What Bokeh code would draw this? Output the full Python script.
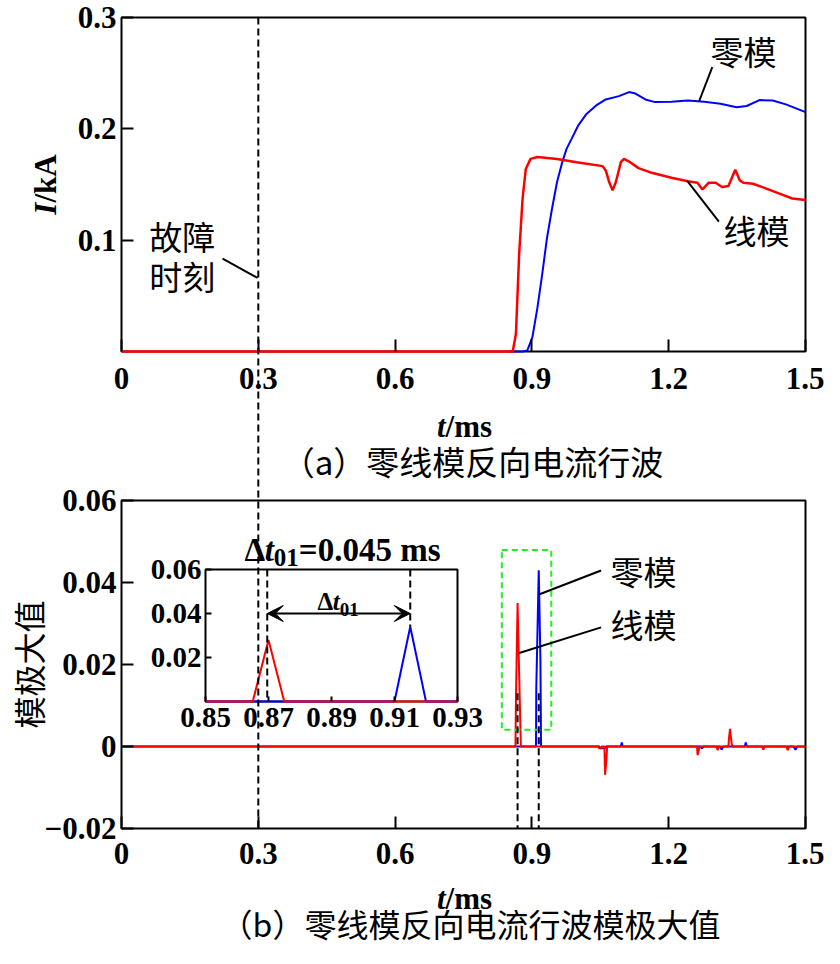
import math
from bokeh.plotting import figure
from bokeh.models import Range1d, LinearAxis, FixedTicker, Arrow, VeeHead
from bokeh.core.properties import value
from bokeh.embed import file_html
from bokeh.resources import INLINE

# ---------------- data ----------------
t_ticks = [0, 0.3, 0.6, 0.9, 1.2, 1.5]
t_tick_labels = ["0", "0.3", "0.6", "0.9", "1.2", "1.5"]
i_ticks = [0.1, 0.2, 0.3]
i_tick_labels = ["0.1", "0.2", "0.3"]
m_ticks = [-0.02, 0, 0.02, 0.04, 0.06]
m_tick_labels = ["\u22120.02", "0", "0.02", "0.04", "0.06"]
inset_t_ticks = [0.85, 0.87, 0.89, 0.91, 0.93]
inset_t_labels = ["0.85", "0.87", "0.89", "0.91", "0.93"]
inset_m_ticks = [0.02, 0.04, 0.06]
inset_m_labels = ["0.02", "0.04", "0.06"]

# (a) backward current travelling waves, kA
line_t = [0, 0.858, 0.865, 0.872, 0.8795, 0.8866, 0.897, 0.912, 0.955, 0.998, 1.055, 1.062,
          1.0696, 1.077, 1.084, 1.095, 1.102, 1.113, 1.134, 1.163, 1.206, 1.242, 1.263, 1.274,
          1.288, 1.303, 1.317, 1.331, 1.346, 1.356, 1.364, 1.385, 1.414, 1.443, 1.471, 1.5]
line_i = [0, 0, 0.016, 0.087, 0.137, 0.164, 0.173, 0.1747, 0.173, 0.170, 0.1665, 0.1626,
          0.152, 0.1448, 0.152, 0.170, 0.173, 0.1706, 0.1647, 0.1605, 0.156, 0.153, 0.1516, 0.1456,
          0.1516, 0.1516, 0.1478, 0.1487, 0.1632, 0.1537, 0.1516, 0.1507, 0.1463, 0.1418, 0.1374, 0.136]
zero_t = [0.85, 0.880, 0.890, 0.901, 0.912, 0.9225, 0.933, 0.944, 0.955, 0.9655, 0.976, 0.987,
          1.001, 1.019, 1.041, 1.062, 1.091, 1.113, 1.127, 1.149, 1.170, 1.206, 1.242, 1.278,
          1.3135, 1.349, 1.371, 1.399, 1.428, 1.457, 1.5]
zero_i = [0, 0, 0.001, 0.0127, 0.039, 0.069, 0.1017, 0.128, 0.152, 0.1685, 0.182, 0.191,
          0.2026, 0.213, 0.221, 0.2264, 0.2294, 0.233, 0.2317, 0.2264, 0.224, 0.2243, 0.2255, 0.2243,
          0.2226, 0.2193, 0.2205, 0.2258, 0.2255, 0.222, 0.215]

# (b) modulus maxima
mod_line_t = [0, 0.864, 0.865, 0.8686, 0.8722, 0.8758, 1.046, 1.047, 1.052, 1.053, 1.059, 1.0605,
              1.0635, 1.065, 1.262, 1.2635, 1.2665, 1.268, 1.305, 1.3075, 1.31, 1.331, 1.332, 1.3345,
              1.3375, 1.339, 1.405, 1.4075, 1.41, 1.458, 1.461, 1.464, 1.5]
mod_line_v = [0, 0, 0.0114, 0.035, 0.017, 0, 0, -0.0004, -0.0004, 0, 0, -0.0069,
              -0.0030, 0, 0, -0.0021, -0.0006, 0, 0, -0.0009, 0, 0, 0.0018, 0.0043,
              0.0012, 0, 0, -0.0008, 0, 0, -0.0009, 0, 0]
mod_zero_t = [0, 0.909, 0.9096, 0.915, 0.9187, 0.920, 1.048, 1.05, 1.06, 1.062, 1.095, 1.097,
              1.099, 1.27, 1.273, 1.276, 1.312, 1.316, 1.32, 1.367, 1.369, 1.371, 1.474, 1.478,
              1.482, 1.5]
mod_zero_v = [0, 0, 0.014, 0.043, 0.0211, 0, 0, -0.0004, -0.0004, 0, 0, 0.001,
              0, 0, -0.0005, 0, 0, -0.0007, 0, 0, 0.001, 0, 0, -0.0008,
              0, 0]

# inset (zoomed wavefront maxima)
inset_line_t = [0.85, 0.865, 0.87, 0.875, 0.93]
inset_line_v = [0, 0, 0.028, 0, 0]
inset_zero_t = [0.85, 0.91, 0.915, 0.92, 0.93]
inset_zero_v = [0, 0, 0.034, 0, 0]

fault_t = 0.3
arrival_line_t = 0.8686
arrival_zero_t = 0.915
inset_arrival_line_t = 0.8696
inset_arrival_zero_t = 0.915
delta_label = "=0.045 ms"

RED = "#ff0000"
BLUE = "#0000ff"
GREEN = "#22ee22"
SERIF = "Liberation Serif"
CJK = "Noto Sans CJK SC"

# ---------------- layout (canvas pixels, y downward) ----------------
W, H = 824, 948
X0, X1 = 121, 805                 # t = 0 / 1.5
TOP_T, TOP_B = 17, 351            # I = 0.3 / 0
BOT_T, BOT_B = 500, 828           # 0.06 / -0.02
INS_X0, INS_X1 = 205, 457         # 0.85 / 0.93
INS_T, INS_B = 569, 701           # 0.06 / 0


def rng_x(v0, v1, p0, p1):
    s = (p1 - p0) / (v1 - v0)
    return Range1d(start=v0 - p0 / s, end=v1 + (W - p1) / s)


def rng_y(vtop, vbot, ptop, pbot):
    s = (pbot - ptop) / (vtop - vbot)
    return Range1d(start=vbot - (H - pbot) / s, end=vtop + ptop / s)


p = figure(width=W, height=H, x_range=rng_x(0, 1.5, X0, X1),
           y_range=rng_y(0.06, -0.02, BOT_T, BOT_B),
           x_axis_type=None, y_axis_type=None,
           toolbar_location=None, output_backend="svg",
           min_border=0, min_border_left=0, min_border_right=0,
           min_border_top=0, min_border_bottom=0)
p.extra_x_ranges = {"ix": rng_x(0.85, 0.93, INS_X0, INS_X1), "px": Range1d(start=0, end=W)}
p.extra_y_ranges = {"top": rng_y(0.3, 0, TOP_T, TOP_B),
                    "iy": rng_y(0.06, 0, INS_T, INS_B),
                    "py": Range1d(start=0, end=H)}
p.outline_line_color = None
p.background_fill_color = "white"
p.border_fill_color = "white"


def cy(y):
    return H - y


def axis(side, ticks, labels, loc, bounds, xr="default", yr="default",
         tick_len=12, size=31, standoff=6):
    ax = LinearAxis(x_range_name=xr, y_range_name=yr, fixed_location=loc, bounds=bounds,
                    ticker=FixedTicker(ticks=ticks),
                    major_label_overrides={k: v for k, v in zip(ticks, labels)})
    ax.axis_line_color = None
    ax.major_tick_in = tick_len
    ax.major_tick_out = 0
    ax.major_tick_line_width = 2
    ax.major_tick_line_color = "black"
    ax.minor_tick_line_color = None
    ax.major_label_standoff = standoff
    ax.major_label_text_font = SERIF
    ax.major_label_text_font_size = f"{size}px"
    ax.major_label_text_font_style = "bold"
    ax.major_label_text_color = "black"
    p.add_layout(ax, side)
    return ax


# ---- frames ----
p.quad(left=[0], right=[1.5], bottom=[0], top=[0.3], y_range_name="top",
       fill_color=None, line_color="black", line_width=2)
p.quad(left=[0], right=[1.5], bottom=[-0.02], top=[0.06],
       fill_color=None, line_color="black", line_width=2)
p.quad(left=[0.85], right=[0.93], bottom=[0], top=[0.06], x_range_name="ix", y_range_name="iy",
       fill_color=None, line_color="black", line_width=2)

# ---- axes ----
axis("below", t_ticks, t_tick_labels, 0, (0, 1.5), yr="top", standoff=16)
axis("left", i_ticks, i_tick_labels, 0, (0, 0.3), yr="top", standoff=5)
axis("below", t_ticks, t_tick_labels, -0.02, (0, 1.5), standoff=14)
axis("left", m_ticks, m_tick_labels, 0, (-0.02, 0.06), standoff=5)
axis("below", inset_t_ticks, inset_t_labels, 0, (0.85, 0.93), xr="ix", yr="iy",
     tick_len=5, size=29, standoff=6)
axis("left", inset_m_ticks, inset_m_labels, 0.85, (0, 0.06), xr="ix", yr="iy",
     tick_len=6, size=29, standoff=4)

# ---- (a) curves ----
p.line(zero_t, zero_i, y_range_name="top", line_color=BLUE, line_width=2)
p.line(line_t, line_i, y_range_name="top", line_color=RED, line_width=2.5)

# ---- (b) curves ----
p.line(mod_zero_t, mod_zero_v, line_color=BLUE, line_width=2)
p.line(mod_line_t, mod_line_v, line_color=RED, line_width=2)
p.quad(left=[0.834], right=[0.9425], bottom=[0.0041], top=[0.0479],
       fill_color=None, line_color=GREEN, line_width=2, line_dash="6 4")
for tt in (arrival_line_t, arrival_zero_t):
    p.segment(x0=[tt], y0=[0.013], x1=[tt], y1=[-0.02], line_color="black",
              line_width=2, line_dash="7 4")

# ---- inset ----
p.line(inset_zero_t, inset_zero_v, x_range_name="ix", y_range_name="iy", line_color=BLUE, line_width=2)
p.line(inset_line_t, inset_line_v, x_range_name="ix", y_range_name="iy", line_color=RED, line_width=2)
p.segment(x0=[inset_arrival_line_t], y0=[0.06], x1=[inset_arrival_line_t], y1=[0],
          x_range_name="ix", y_range_name="iy", line_color="black", line_width=2, line_dash="7 4")
p.segment(x0=[inset_arrival_zero_t], y0=[0.06], x1=[inset_arrival_zero_t], y1=[0.034],
          x_range_name="ix", y_range_name="iy", line_color="black", line_width=2, line_dash="7 4")
p.add_layout(Arrow(x_start=inset_arrival_line_t, y_start=0.04, x_end=inset_arrival_zero_t, y_end=0.04,
                   x_range_name="ix", y_range_name="iy", line_width=2, line_color="black",
                   start=VeeHead(size=16, fill_color="black", line_color="black", line_width=1),
                   end=VeeHead(size=16, fill_color="black", line_color="black", line_width=1)))

# ---- fault instant line across both panels ----
p.segment(x0=[fault_t], y0=[cy(TOP_T)], x1=[fault_t], y1=[cy(BOT_B)], y_range_name="py",
          line_color="black", line_width=2, line_dash="7 4")


# ---- texts ----
def put(x, y, s, size, font=SERIF, style="bold", align="left", baseline="alphabetic",
        angle=0.0, xr="default", yr="default"):
    p.text(x=[x], y=[y], text=[s], x_range_name=xr, y_range_name=yr,
           text_font=value(font), text_font_size=f"{size}px", text_font_style=style,
           text_align=align, text_baseline=baseline, angle=angle, text_color="black")


EM = {'/': 0.278, 'm': 0.833, 's': 0.389, 'k': 0.556, 'A': 0.722, '=': 0.570, '.': 0.25,
      ' ': 0.25, '\u0394': 0.612, 't': 0.278, 'I': 0.389}


def wid(s, size):
    return sum(EM.get(c, 0.5) for c in s) * size


def pieces(x, y, parts):
    # parts: (text, size, style, dy) ; x,y canvas px (y down, baseline)
    for s, size, style, dy in parts:
        put(x, cy(y + dy), s, size, style=style, xr="px", yr="py")
        x += wid(s, size)


# axis titles "t/ms"
for base in (426, 898):
    x0 = 464 - (wid("t", 31) + wid("/ms", 31)) / 2
    pieces(x0, base, [("t", 31, "bold italic", 0), ("/ms", 31, "bold", 0)])

# I/kA (rotated)
yb = (TOP_T + TOP_B) / 2 + (wid("I", 31) + wid("/kA", 31)) / 2
put(45, cy(yb), "I", 31, style="bold italic", baseline="middle", angle=math.pi / 2, xr="px", yr="py")
put(45, cy(yb - wid("I", 31)), "/kA", 31, style="bold", baseline="middle", angle=math.pi / 2,
    xr="px", yr="py")

# 模极大值 (rotated)
put(27, cy(664), "模极大值", 32, font=CJK, style="normal", align="center", baseline="middle",
    angle=math.pi / 2, xr="px", yr="py")

# captions
put(472, cy(460), "（a）零线模反向电流行波", 33, font=CJK, style="normal", align="center",
    baseline="middle", xr="px", yr="py")
put(470, cy(922), "（b）零线模反向电流行波模极大值", 32, font=CJK, style="normal", align="center",
    baseline="middle", xr="px", yr="py")

# Δt01 = 0.045 ms
pieces(244, 549, [("\u0394", 33, "bold", 0), ("t", 33, "bold italic", 0),
                  ("01", 25, "bold", 8), (delta_label, 33, "bold", 0)])
# inset Δt01
pieces(317, 601, [("\u0394", 25, "bold", 0), ("t", 25, "bold italic", 0), ("01", 19, "bold", 8)])

# annotations (a)
put(1.364, 0.2697, "零模", 33, font=CJK, style="normal", align="center", baseline="middle", yr="top")
p.line([1.2956, 1.2669], [0.2555, 0.2250], y_range_name="top", line_color="black", line_width=2)
put(1.3924, 0.1095, "线模", 33, font=CJK, style="normal", align="center", baseline="middle", yr="top")
p.line([1.31, 1.2402], [0.1166, 0.1534], y_range_name="top", line_color="black", line_width=2)
put(0.1334, 0.1033, "故障", 33, font=CJK, style="normal", align="center", baseline="middle", yr="top")
put(0.1334, 0.0677, "时刻", 33, font=CJK, style="normal", align="center", baseline="middle", yr="top")
p.line([0.2217, 0.2985], [0.0834, 0.0661], y_range_name="top", line_color="black", line_width=2)

# annotations (b)
put(1.1449, 0.04286, "零模", 33, font=CJK, style="normal", align="center", baseline="middle")
p.line([1.0517, 0.9153], [0.04293, 0.03707], line_color="black", line_width=2)
put(1.1449, 0.030, "线模", 33, font=CJK, style="normal", align="center", baseline="middle")
p.line([1.0517, 0.8722], [0.02905, 0.02279], line_color="black", line_width=2)

open("out.html", "w").write(file_html(p, INLINE))
